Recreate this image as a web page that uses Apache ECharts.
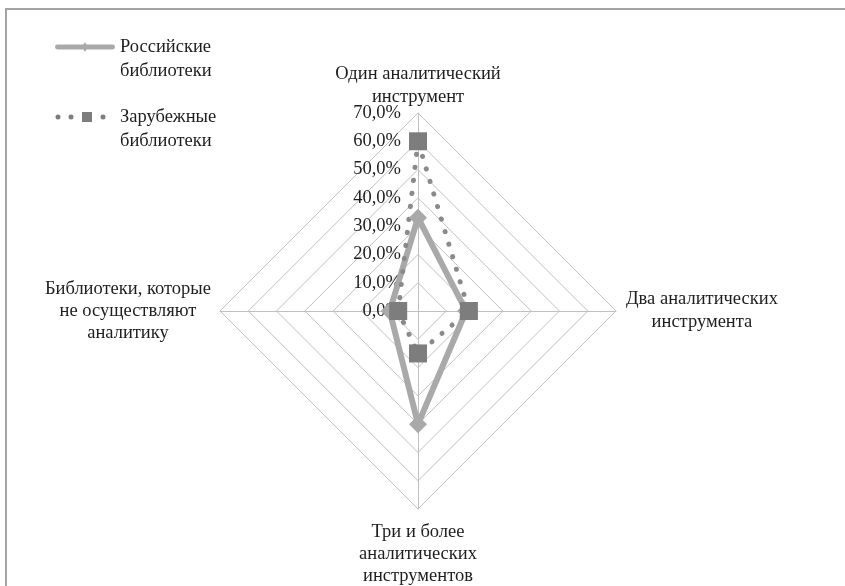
<!DOCTYPE html>
<html>
<head>
<meta charset="utf-8">
<script src="https://cdn.jsdelivr.net/npm/echarts@6/dist/echarts.min.js"></script>
<style>
  html, body { margin: 0; padding: 0; background: #fff; }
  #chart { width: 845px; height: 586px; }
</style>
</head>
<body>
<div id="chart"></div>
<script>
// Axes listed counterclockwise from the top: top, left, bottom, right
const indicatorNames = [
  'Один аналитический\nинструмент',
  'Библиотеки, которые\nне осуществляют\nаналитику',
  'Три и более\nаналитических\nинструментов',
  'Два аналитических\nинструмента'
];
const seriesNames = ['Российские\nбиблиотеки', 'Зарубежные\nбиблиотеки'];
const russianValues = [33, 10, 40, 17];
const foreignValues = [60, 7, 15, 18];
const axisMax = 70;
const axisStep = 10;

const SERIF = '"Liberation Serif", "DejaVu Serif", serif';
const TEXT_COLOR = '#1e1e1e';
const FONT_SIZE = 18.5;

// Gap between each axis end and its name (top, left, bottom, right)
const nameGaps = [4, 9, 12, 10];

// Legend glyphs: a thick bar with a small diamond, and dots with a square
const russianIcon = 'path://M0,0 M60,14 M2,4.5 H58 A2.5,2.5 0 0 1 58,9.5 H2 A2.5,2.5 0 0 1 2,4.5 Z M30,2 L33,7 L30,12 L27,7 Z';
const foreignIcon = 'path://M0,0 M60,14 ' +
  'M0.5,7 A2.5,2.5 0 1 0 5.5,7 A2.5,2.5 0 1 0 0.5,7 Z ' +
  'M13.5,7 A2.5,2.5 0 1 0 18.5,7 A2.5,2.5 0 1 0 13.5,7 Z ' +
  'M27,2 H37 V12 H27 Z ' +
  'M45.5,7 A2.5,2.5 0 1 0 50.5,7 A2.5,2.5 0 1 0 45.5,7 Z';

// Axis names: every line centred within its block
const nameTextBase = { align: 'center', color: TEXT_COLOR, fontFamily: SERIF, fontSize: FONT_SIZE, lineHeight: 23 };
const nameRich = {
  top: nameTextBase,
  left: Object.assign({}, nameTextBase, { lineHeight: 22 }),
  bottom: Object.assign({}, nameTextBase, { lineHeight: 22 }),
  right: nameTextBase
};
const nameStyleKeys = ['top', 'left', 'bottom', 'right'];

const chart = echarts.init(document.getElementById('chart'), null, { renderer: 'canvas' });

const indicators = indicatorNames.map(function (name, i) {
  const ind = { name: name, min: 0, max: axisMax, nameGap: nameGaps[i], nameMoveOverlap: false };
  if (i === 0) {
    ind.axisLabel = {
      show: true,
      margin: 17,
      color: TEXT_COLOR,
      fontFamily: SERIF,
      fontSize: FONT_SIZE,
      formatter: function (v) { return v.toFixed(1).replace('.', ',') + '%'; }
    };
  }
  return ind;
});

chart.setOption({
  backgroundColor: '#ffffff',
  animation: false,
  graphic: [{
    type: 'rect',
    shape: { x: 6, y: 9, width: 900, height: 700 },
    style: { fill: 'none', stroke: '#a3a3a3', lineWidth: 2 },
    silent: true
  }],
  legend: {
    orient: 'vertical',
    left: 55,
    top: 11,
    padding: 0,
    itemWidth: 60,
    itemHeight: 14,
    itemGap: -2,
    selectedMode: false,
    itemStyle: { borderWidth: 0 },
    // leading blank line keeps the glyph level with the first text line
    formatter: function (name) { return '\n' + name; },
    textStyle: {
      color: TEXT_COLOR,
      fontFamily: SERIF,
      fontSize: FONT_SIZE,
      lineHeight: 24
    },
    data: [
      { name: seriesNames[0], icon: russianIcon },
      { name: seriesNames[1], icon: foreignIcon }
    ]
  },
  radar: {
    center: [418, 311],
    radius: 198,
    startAngle: 90,
    shape: 'polygon',
    splitNumber: axisMax / axisStep,
    indicator: indicators,
    nameGap: 9,
    nameMoveOverlap: false,
    axisName: {
      color: TEXT_COLOR,
      fontFamily: SERIF,
      fontSize: FONT_SIZE,
      lineHeight: 23,
      formatter: function (name) {
        const key = nameStyleKeys[indicatorNames.indexOf(name)] || 'top';
        return name.split('\n').map(function (s) { return '{' + key + '|' + s + '}'; }).join('\n');
      },
      rich: nameRich
    },
    axisLine: { lineStyle: { color: '#c0c0c0', width: 1 } },
    splitLine: { lineStyle: { color: '#c0c0c0', width: 1 } },
    splitArea: { show: false },
    axisTick: { show: false },
    axisLabel: { show: false }
  },
  series: [
    {
      name: seriesNames[0],
      type: 'radar',
      symbol: 'diamond',
      symbolSize: 18,
      itemStyle: { color: '#a9a9a9' },
      lineStyle: { color: '#a9a9a9', width: 6 },
      data: [{ value: russianValues, name: seriesNames[0] }]
    },
    {
      name: seriesNames[1],
      type: 'radar',
      symbol: 'rect',
      symbolSize: 18,
      itemStyle: { color: '#7d7d7d' },
      lineStyle: { color: '#8a8a8a', width: 5, type: [0.1, 13], cap: 'round' },
      data: [{ value: foreignValues, name: seriesNames[1] }]
    }
  ]
});
</script>
</body>
</html>
